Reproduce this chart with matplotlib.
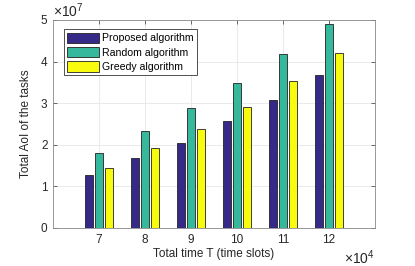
import matplotlib
matplotlib.use("Agg")
import matplotlib.pyplot as plt
import numpy as np

# total time T (x 1e4) and total AoI (x 1e7)
T = [7, 8, 9, 10, 11, 12]
proposed = [1.27, 1.68, 2.04, 2.58, 3.08, 3.68]
random_alg = [1.81, 2.32, 2.88, 3.49, 4.19, 4.90]
greedy = [1.45, 1.92, 2.37, 2.92, 3.54, 4.20]
labels = ["Proposed algorithm", "Random algorithm", "Greedy algorithm"]
colors = ["#352a87", "#35b89b", "#f9fb0e"]

plt.rcParams['font.family'] = ['Liberation Sans', 'DejaVu Sans']
plt.rcParams['font.size'] = 8.5
plt.rcParams['mathtext.fontset'] = 'custom'
plt.rcParams['mathtext.rm'] = 'Liberation Sans'
plt.rcParams['mathtext.it'] = 'Liberation Sans'

fig = plt.figure(figsize=(4.15, 2.66), dpi=100)
ax = fig.add_axes([53 / 415, 1 - 228 / 266, 322 / 415, 208 / 266])

x = np.array(T, dtype=float)
w = 0.19
for i, (vals, lab, c) in enumerate(zip([proposed, random_alg, greedy], labels, colors)):
    ax.bar(x + (i - 1) * 0.22, vals, width=w, color=c, edgecolor="#222222",
           linewidth=0.6, label=lab, zorder=3)

ax.set_xlim(6, 13)
ax.set_ylim(0, 5)
ax.set_xticks(T)
ax.set_yticks([0, 1, 2, 3, 4, 5])
ax.grid(True, color="#e6e6e6", linewidth=0.6, zorder=0)
ax.tick_params(direction="in", top=True, right=True, length=3, width=0.5,
               color="#333333", labelcolor="#262626", pad=4)
for s in ax.spines.values():
    s.set_color("#888888")
    s.set_linewidth(0.6)

ax.set_xlabel("Total time T (time slots)", color="#262626", labelpad=2)
ax.set_ylabel("Total AoI of the tasks", color="#262626", labelpad=6)

ax.text(0.0, 1.0, r"$\times\mathregular{10^{7}}$", transform=ax.transAxes, ha="left",
        va="bottom", color="#262626", fontsize=10)
ax.text(1.0, -0.1, r"$\times\mathregular{10^{4}}$", transform=ax.transAxes, ha="right",
        va="top", color="#262626", fontsize=10)

leg = ax.legend(loc="upper left", bbox_to_anchor=(0.035, 0.955), fancybox=False,
                framealpha=1, edgecolor="#333333", handlelength=3.0,
                handleheight=1.2, handletextpad=0.3, borderpad=0.3,
                labelspacing=0.3, borderaxespad=0, fontsize=7.6)
leg.get_frame().set_linewidth(0.6)

fig.savefig("out.png", dpi=100)
